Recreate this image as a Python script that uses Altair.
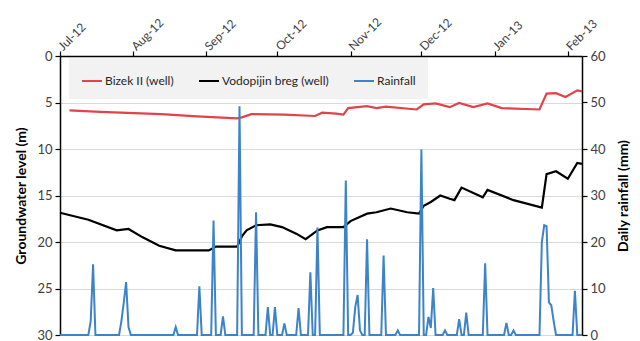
import altair as alt
import pandas as pd

START = pd.Timestamp("2012-07-01")

# Bizek II (well): depth to groundwater (m), keyed by days since 1 Jul 2012
bizek_day = [4, 17, 43, 58, 75, 77, 81, 95, 108, 111, 117, 120, 122, 130, 134, 138,
             151, 154, 159, 165, 169, 175, 181, 187, 203, 206, 210, 214, 219, 221]
bizek_m = [5.85, 6.0, 6.25, 6.5, 6.7, 6.6, 6.25, 6.3, 6.45, 6.1, 6.2, 6.3, 5.6, 5.4,
           5.6, 5.45, 5.75, 5.2, 5.1, 5.5, 5.05, 5.5, 5.1, 5.6, 5.75, 4.05, 4.0, 4.4,
           3.7, 3.8]

# Vodopijin breg (well): depth to groundwater (m)
vodo_day = [0, 12, 24, 29, 35, 42, 49, 63, 66, 75, 77, 79, 83, 89, 94, 100, 104, 109,
            113, 120, 123, 130, 134, 140, 147, 152, 154, 157, 161, 165, 167, 170, 179,
            181, 192, 204, 206, 210, 215, 219, 221]
vodo_m = [16.85, 17.6, 18.75, 18.6, 19.5, 20.4, 20.9, 20.9, 20.5, 20.5, 19.4, 18.75,
          18.2, 18.1, 18.4, 19.1, 19.7, 18.75, 18.4, 18.4, 17.75, 16.95, 16.8, 16.4,
          16.8, 16.95, 16.1, 15.7, 15.0, 15.35, 15.5, 14.15, 15.2, 14.4, 15.5, 16.3,
          12.7, 12.4, 13.2, 11.5, 11.6]

# Daily rainfall (mm) on rainy days; every other day is dry
rain_day = [13, 14, 26, 27, 28, 29, 49, 59, 65, 69, 76, 83, 88, 91, 95, 101, 106, 109,
            121, 124, 125, 126, 127, 130, 137, 143, 153, 156, 157, 158, 163, 169, 172,
            180, 189, 192, 204, 205, 206, 207, 208, 209, 218]
rain_mm = [3.0, 15.2, 3.0, 7.0, 11.4, 1.7, 1.7, 10.5, 24.6, 4.0, 49.2, 26.4, 6.0, 6.0,
           2.5, 5.8, 13.5, 23.1, 33.2, 0.5, 6.0, 8.6, 1.0, 20.6, 17.1, 1.0, 39.9, 3.9,
           1.5, 10.1, 1.0, 3.4, 4.8, 15.4, 2.6, 1.0, 20.0, 23.6, 23.4, 7.0, 6.4, 3.0, 9.5]
LAST_DAY = 221

series_names = ["Bizek II (well)", "Vodopijin breg (well)", "Rainfall"]
series_colors = ["#e2434a", "#000000", "#3d83c8"]

month_ticks = [(2012, 7), (2012, 8), (2012, 9), (2012, 10), (2012, 11), (2012, 12),
               (2013, 1), (2013, 2)]
level_ticks = [0, 5, 10, 15, 20, 25, 30]
rain_ticks = [0, 10, 20, 30, 40, 50, 60]


def to_dates(days):
    return START + pd.to_timedelta(days, unit="D")


gw = pd.concat([
    pd.DataFrame({"date": to_dates(bizek_day), "level": bizek_m, "series": series_names[0]}),
    pd.DataFrame({"date": to_dates(vodo_day), "level": vodo_m, "series": series_names[1]}),
])

daily = dict(zip(rain_day, rain_mm))
all_days = list(range(LAST_DAY + 1))
rain = pd.DataFrame({
    "date": to_dates(all_days),
    "mm": [daily.get(d, 0.0) for d in all_days],
    "series": series_names[2],
})

FONT = "Lato"

x_enc = alt.X(
    "date:T",
    scale=alt.Scale(domain=[alt.DateTime(year=2012, month=7, date=1),
                            alt.DateTime(year=2013, month=2, date=7)]),
    axis=alt.Axis(
        orient="top", title=None, grid=False, format="%b-%y",
        values=[alt.DateTime(year=y, month=m, date=1) for y, m in month_ticks],
        labelAngle=315, labelAlign="left", labelBaseline="middle",
        labelFontSize=12, labelPadding=3, tickSize=5,
    ),
)

color_enc = alt.Color(
    "series:N",
    scale=alt.Scale(domain=series_names, range=series_colors),
    legend=alt.Legend(
        orient="none", legendX=9, legendY=2, direction="horizontal", title=None,
        symbolType="stroke", symbolSize=400, symbolStrokeWidth=2,
        labelFontSize=12, labelFont=FONT, labelColor="#262626", labelOffset=2,
        columnPadding=21, padding=12, fillColor="#f2f2f2",
    ),
)

wells = alt.Chart(gw).mark_line(strokeWidth=2.2).encode(
    x=x_enc,
    y=alt.Y(
        "level:Q",
        scale=alt.Scale(domain=[0, 30], reverse=True, nice=False),
        axis=alt.Axis(
            orient="left", values=level_ticks, title="Groundwater level (m)",
            grid=True, gridColor="#d9d9d9", gridWidth=1, tickSize=5,
            labelPadding=3, titleX=-39, titleY=139.5, titleAngle=270,
            titleAlign="center", titleBaseline="middle",
        ),
    ),
    color=color_enc,
    detail="series:N",
)

rainfall = alt.Chart(rain).mark_line(strokeWidth=2).encode(
    x=x_enc,
    y=alt.Y(
        "mm:Q",
        scale=alt.Scale(domain=[0, 60], nice=False),
        axis=alt.Axis(
            orient="right", values=rain_ticks, title="Daily rainfall (mm)",
            grid=False, tickSize=5, labelPadding=3, titleX=41, titleY=139.5,
            titleAngle=270, titleAlign="center", titleBaseline="middle",
        ),
    ),
    color=color_enc,
)

chart = (
    alt.layer(wells, rainfall)
    .resolve_scale(y="independent")
    .properties(
        width=522, height=279,
        padding={"left": 60, "top": 56, "right": 58, "bottom": 6},
        autosize=alt.AutoSizeParams(type="none"),
        background="white",
    )
    .configure_view(stroke=None)
    .configure_axis(
        domainColor="black", domainWidth=1.5, tickColor="black", tickWidth=1.2,
        labelFont=FONT, labelFontSize=13, labelColor="#404040",
        titleFont=FONT, titleFontSize=14, titleFontWeight="bold", titleColor="black",
    )
)

chart.save("out.html", embed_options={"renderer": "svg", "actions": False})
